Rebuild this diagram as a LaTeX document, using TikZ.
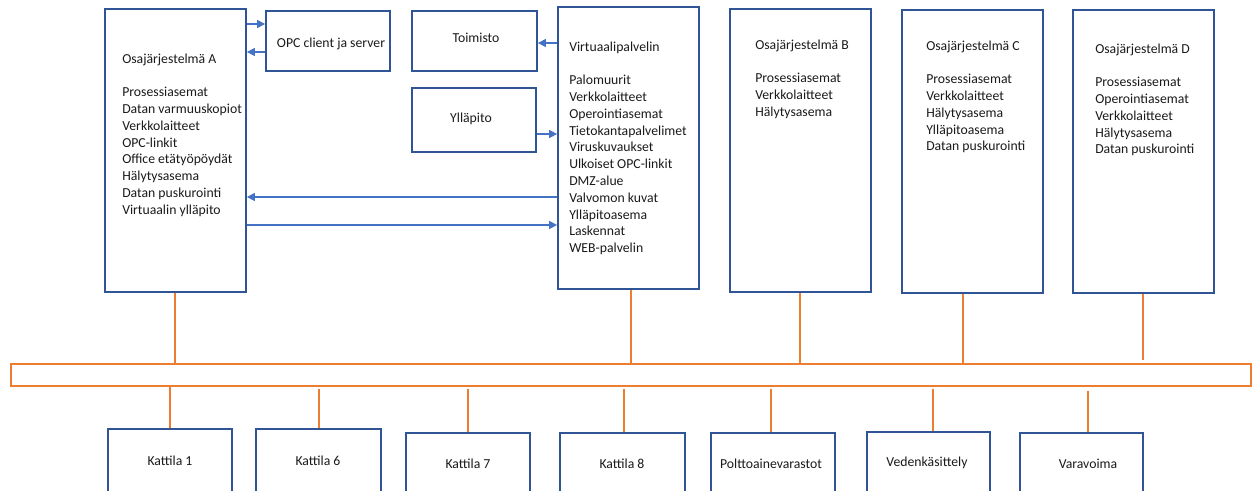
\documentclass[tikz,border=0pt]{standalone}
\usepackage{fontspec}
\setmainfont{Carlito}
\usetikzlibrary{fit,arrows.meta}
\definecolor{boxblue}{HTML}{2F5597}
\definecolor{arrblue}{HTML}{4472C4}
\definecolor{busorange}{HTML}{ED7D31}
\definecolor{txt}{HTML}{1A1A1A}
\tikzset{
  box/.style={draw=boxblue, line width=1.3pt, inner sep=0pt},
  bus/.style={draw=busorange, line width=1.2pt, inner sep=0pt},
  link/.style={draw=busorange, line width=1.2pt},
  arr/.style={draw=arrblue, line width=0.8pt, -{Triangle[length=6pt,width=6pt]}, fill=none},
  plain/.style={draw=arrblue, line width=0.8pt},
  lbl/.style={inner sep=0pt, text=txt, font=\fontsize{10.3}{12.6}\selectfont},
  list/.style={inner sep=0pt, text=txt, anchor=base west, font=\fontsize{10.3}{12.6}\selectfont}
}
\newcommand{\itemlist}[1]{\renewcommand{\arraystretch}{1}\begin{tabular}[t]{@{}l@{}}#1\end{tabular}}
\begin{document}
\begin{tikzpicture}[x=0.75pt,y=-0.75pt]
\useasboundingbox (0,0) rectangle (1256,490);
\clip (0,0) rectangle (1256,490);

% upper boxes
\node[box, fit={(105,9) (246,292)}] (A) {};
\node[box, fit={(266,11) (390,71)}] (OPC) {};
\node[box, fit={(412,11) (537,71)}] (Toim) {};
\node[box, fit={(412,88) (536,152)}] (Yll) {};
\node[box, fit={(558,7) (699,289)}] (V) {};
\node[box, fit={(730,9) (871,292)}] (B) {};
\node[box, fit={(902,10) (1043,293)}] (C) {};
\node[box, fit={(1073,10) (1214,293)}] (D) {};

% texts in upper boxes
\node[list] (At) at (122,63) {\itemlist{Osajärjestelmä A\\ \\ Prosessiasemat\\ Datan varmuuskopiot\\ Verkkolaitteet\\ OPC-linkit\\ Office etätyöpöydät\\ Hälytysasema\\ Datan puskurointi\\ Virtuaalin ylläpito}};
\node[list] (Vt) at (569,51) {\itemlist{Virtuaalipalvelin\\ \\ Palomuurit\\ Verkkolaitteet\\ Operointiasemat\\ Tietokantapalvelimet\\ Viruskuvaukset\\ Ulkoiset OPC-linkit\\ DMZ-alue\\ Valvomon kuvat\\ Ylläpitoasema\\ Laskennat\\ WEB-palvelin}};
\node[list] (Bt) at (755,49) {\itemlist{Osajärjestelmä B\\ \\ Prosessiasemat\\ Verkkolaitteet\\ Hälytysasema}};
\node[list] (Ct) at (926,50) {\itemlist{Osajärjestelmä C\\ \\ Prosessiasemat\\ Verkkolaitteet\\ Hälytysasema\\ Ylläpitoasema\\ Datan puskurointi}};
\node[list] (Dt) at (1095,53) {\itemlist{Osajärjestelmä D\\ \\ Prosessiasemat\\ Operointiasemat\\ Verkkolaitteet\\ Hälytysasema\\ Datan puskurointi}};
\node[lbl] (OPCt) at (331,44) {OPC client ja server};
\node[lbl] (Toimt) at (476,38) {Toimisto};
\node[lbl] (Yllt) at (471,119) {Ylläpito};

% blue arrows
\draw[arr] (A.east |- 0,24) -- (OPC.west |- 0,24);
\draw[arr] (OPC.west |- 0,52) -- (A.east |- 0,52);
\draw[arr] (V.west |- 0,43) -- (Toim.east |- 0,43);
\draw[arr] (Yll.east |- 0,134) -- (V.west |- 0,134);
\draw[arr] (V.west |- 0,197) -- (A.east |- 0,197);
\draw[arr] (A.east |- 0,225) -- (V.west |- 0,225);

% bus
\node[bus, fit={(11,364) (1251,386)}] (bus) {};

% lower boxes
\node[box, fit={(108,429) (232,500)}] (K1) {};
\node[box, fit={(256,429) (381,500)}] (K6) {};
\node[box, fit={(406,433) (530,500)}] (K7) {};
\node[box, fit={(560,433) (685,500)}] (K8) {};
\node[box, fit={(711,433) (835,500)}] (PA) {};
\node[box, fit={(867,432) (990,500)}] (VK) {};
\node[box, fit={(1020,433) (1143,500)}] (VV) {};
\node[lbl] (K1t) at (170,461) {Kattila 1};
\node[lbl] (K6t) at (318,461) {Kattila 6};
\node[lbl] (K7t) at (468,464) {Kattila 7};
\node[lbl] (K8t) at (622,464) {Kattila 8};
\node[lbl] (PAt) at (771,464) {Polttoainevarastot};
\node[lbl] (VKt) at (927,463) {Vedenkäsittely};
\node[lbl] (VVt) at (1088,464) {Varavoima};

% orange links up
\draw[link] (A.south -| 175,0) -- (bus.north -| 175,0);
\draw[link] (V.south -| 631,0) -- (bus.north -| 631,0);
\draw[link] (B.south -| 800,0) -- (bus.north -| 800,0);
\draw[link] (C.south -| 963,0) -- (bus.north -| 963,0);
\draw[link] (D.south -| 1143,0) -- ([yshift=2.2pt]bus.north -| 1143,0);
% orange links down
\draw[link] (bus.south -| 170,0) -- (K1.north -| 170,0);
\draw[link] ([yshift=-1.5pt]bus.south -| 319,0) -- (K6.north -| 319,0);
\draw[link] ([yshift=-1.5pt]bus.south -| 468,0) -- (K7.north -| 468,0);
\draw[link] ([yshift=-1.5pt]bus.south -| 624,0) -- (K8.north -| 624,0);
\draw[link] ([yshift=-1.5pt]bus.south -| 771,0) -- (PA.north -| 771,0);
\draw[link] ([yshift=-2pt]bus.south -| 933,0) -- (VK.north -| 933,0);
\draw[link] ([yshift=-3.5pt]bus.south -| 1088,0) -- (VV.north -| 1088,0);
\end{tikzpicture}
\end{document}
